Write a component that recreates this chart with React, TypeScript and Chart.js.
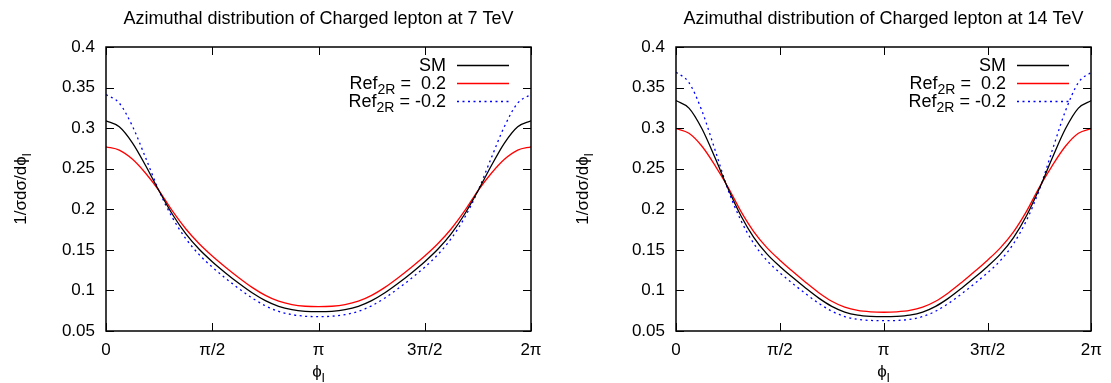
import { useEffect, useRef } from 'react';
import { Chart, registerables } from 'chart.js';

Chart.register(...registerables);

const FONT = '"Liberation Sans", Arial, sans-serif';

// azimuthal angle samples (every pi/16)
const phi = [
  0, Math.PI / 16, (2 * Math.PI) / 16, (3 * Math.PI) / 16, (4 * Math.PI) / 16,
  (5 * Math.PI) / 16, (6 * Math.PI) / 16, (7 * Math.PI) / 16, (8 * Math.PI) / 16,
  (9 * Math.PI) / 16, (10 * Math.PI) / 16, (11 * Math.PI) / 16, (12 * Math.PI) / 16,
  (13 * Math.PI) / 16, (14 * Math.PI) / 16, (15 * Math.PI) / 16, Math.PI,
  (17 * Math.PI) / 16, (18 * Math.PI) / 16, (19 * Math.PI) / 16, (20 * Math.PI) / 16,
  (21 * Math.PI) / 16, (22 * Math.PI) / 16, (23 * Math.PI) / 16, (24 * Math.PI) / 16,
  (25 * Math.PI) / 16, (26 * Math.PI) / 16, (27 * Math.PI) / 16, (28 * Math.PI) / 16,
  (29 * Math.PI) / 16, (30 * Math.PI) / 16, (31 * Math.PI) / 16, 2 * Math.PI,
];

const xTickValues = [0, Math.PI / 2, Math.PI, (3 * Math.PI) / 2, 2 * Math.PI];
const xTickLabels = ['0', 'π/2', 'π', '3π/2', '2π'];
const yTickValues = [0.05, 0.1, 0.15, 0.2, 0.25, 0.3, 0.35, 0.4];

// 7 TeV
const sm7 = [
  0.309, 0.3017, 0.2816, 0.2533, 0.2225, 0.1939, 0.17, 0.151, 0.1354, 0.1216, 0.1088, 0.0971, 0.0874, 0.0804, 0.0763, 0.0743, 0.0738,
  0.0743, 0.0763, 0.0804, 0.0874, 0.0971, 0.1088, 0.1216, 0.1354, 0.151, 0.17, 0.1939, 0.2225, 0.2533, 0.2816, 0.3017, 0.309,
];
const pos7 = [
  0.277, 0.2729, 0.2616, 0.2441, 0.2228, 0.1979, 0.176, 0.1578, 0.1424, 0.1286, 0.1157, 0.1038, 0.0939, 0.0867, 0.0825, 0.0805, 0.08,
  0.0805, 0.0825, 0.0867, 0.0939, 0.1038, 0.1157, 0.1286, 0.1424, 0.1578, 0.176, 0.1979, 0.2228, 0.2441, 0.2616, 0.2729, 0.277,
];
const neg7 = [
  0.3414, 0.3309, 0.3021, 0.2628, 0.2225, 0.1897, 0.164, 0.1444, 0.1287, 0.115, 0.1023, 0.0907, 0.0811, 0.0742, 0.0702, 0.0682, 0.0677,
  0.0682, 0.0702, 0.0742, 0.0811, 0.0907, 0.1023, 0.115, 0.1287, 0.1444, 0.164, 0.1897, 0.2225, 0.2628, 0.3021, 0.3309, 0.3414,
];

// 14 TeV
const sm14 = [
  0.334, 0.3247, 0.2992, 0.2637, 0.2259, 0.192, 0.1651, 0.145, 0.1295, 0.1158, 0.1027, 0.0905, 0.0804, 0.0734, 0.0696, 0.0681, 0.0677,
  0.0681, 0.0696, 0.0734, 0.0804, 0.0905, 0.1027, 0.1158, 0.1295, 0.145, 0.1651, 0.192, 0.2259, 0.2637, 0.2992, 0.3247, 0.334,
];
const pos14 = [
  0.2995, 0.2937, 0.2777, 0.2542, 0.2274, 0.1975, 0.1723, 0.1528, 0.1373, 0.1233, 0.1098, 0.0972, 0.0867, 0.0794, 0.0753, 0.0736, 0.0731,
  0.0736, 0.0753, 0.0794, 0.0867, 0.0972, 0.1098, 0.1233, 0.1373, 0.1528, 0.1723, 0.1975, 0.2274, 0.2542, 0.2777, 0.2937, 0.2995,
];
const neg14 = [
  0.369, 0.3562, 0.3212, 0.2735, 0.2244, 0.1863, 0.1576, 0.137, 0.1217, 0.1084, 0.0958, 0.0841, 0.0744, 0.0678, 0.0643, 0.063, 0.0627,
  0.063, 0.0643, 0.0678, 0.0744, 0.0841, 0.0958, 0.1084, 0.1217, 0.137, 0.1576, 0.1863, 0.2244, 0.2735, 0.3212, 0.3562, 0.369,
];

const title7 = 'Azimuthal distribution of Charged lepton at 7 TeV';
const title14 = 'Azimuthal distribution of Charged lepton at 14 TeV';

type Part = { t: string; sub?: boolean };
const legendEntries: { parts: Part[]; color: string; dash: number[] }[] = [
  { parts: [{ t: 'SM' }], color: '#000000', dash: [] },
  { parts: [{ t: 'Ref' }, { t: '2R', sub: true }, { t: ' =  0.2' }], color: '#ff0000', dash: [] },
  { parts: [{ t: 'Ref' }, { t: '2R', sub: true }, { t: ' = -0.2' }], color: '#0000ff', dash: [2, 3.5] },
];
const yLabelParts: Part[] = [{ t: '1/σdσ/dϕ' }, { t: 'l', sub: true }];
const xLabelParts: Part[] = [{ t: 'ϕ' }, { t: 'l', sub: true }];

function drawRich(ctx: CanvasRenderingContext2D, parts: Part[], x: number, y: number, align: 'left' | 'right' | 'center', size: number) {
  const subSize = size * 0.78;
  const widths = parts.map((p) => {
    ctx.font = `${p.sub ? subSize : size}px ${FONT}`;
    return ctx.measureText(p.t).width;
  });
  const total = widths.reduce((a, b) => a + b, 0);
  let cx = align === 'left' ? x : align === 'right' ? x - total : x - total / 2;
  ctx.textAlign = 'left';
  ctx.textBaseline = 'alphabetic';
  parts.forEach((p, i) => {
    ctx.font = `${p.sub ? subSize : size}px ${FONT}`;
    ctx.fillText(p.t, cx, p.sub ? y + size * 0.3 : y);
    cx += widths[i];
  });
}

function makeOverlay(title: string, yLabelX: number) {
  return {
    id: 'gnuplotOverlay',
    afterDraw(chart: any) {
      const ctx: CanvasRenderingContext2D = chart.ctx;
      const a = chart.chartArea;
      const xs = chart.scales.x;
      const ys = chart.scales.y;
      const L = Math.round(a.left), R = Math.round(a.right), T = Math.round(a.top), B = Math.round(a.bottom);
      ctx.save();
      ctx.strokeStyle = '#000';
      ctx.lineWidth = 1;
      // ticks (inward, mirrored)
      ctx.beginPath();
      xTickValues.forEach((v) => {
        const px = Math.round(xs.getPixelForValue(v)) + 0.5;
        ctx.moveTo(px, B);
        ctx.lineTo(px, B - 8);
        ctx.moveTo(px, T);
        ctx.lineTo(px, T + 8);
      });
      yTickValues.forEach((v) => {
        const py = Math.round(ys.getPixelForValue(v)) + 0.5;
        ctx.moveTo(L, py);
        ctx.lineTo(L + 8, py);
        ctx.moveTo(R, py);
        ctx.lineTo(R - 8, py);
      });
      ctx.stroke();
      // frame
      ctx.lineWidth = 1.5;
      ctx.strokeRect(L, T, R - L, B - T);
      ctx.fillStyle = '#000';
      // title
      drawRich(ctx, [{ t: title }], (L + R) / 2, 24, 'center', 18);
      // axis titles
      drawRich(ctx, xLabelParts, (L + R) / 2, 377, 'center', 17);
      ctx.save();
      ctx.translate(yLabelX, (T + B) / 2);
      ctx.rotate(-Math.PI / 2);
      drawRich(ctx, yLabelParts, 0, 0, 'center', 17);
      ctx.restore();
      // legend
      legendEntries.forEach((e, i) => {
        const cy = T + 18 + i * 18;
        ctx.fillStyle = '#000';
        drawRich(ctx, e.parts, R - 85, cy + 6, 'right', 18);
        ctx.beginPath();
        ctx.strokeStyle = e.color;
        ctx.lineWidth = 1.3;
        ctx.setLineDash(e.dash);
        ctx.moveTo(R - 74, cy + 0.5);
        ctx.lineTo(R - 22, cy + 0.5);
        ctx.stroke();
        ctx.setLineDash([]);
      });
      ctx.restore();
    },
  };
}

function PhiChart(props: { left: number; width: number; axisWidth: number; padRight: number; yLabelX: number; title: string; sm: number[]; pos: number[]; neg: number[] }) {
  const ref = useRef<HTMLCanvasElement | null>(null);
  useEffect(() => {
    if (!ref.current) return;
    const mk = (vals: number[], color: string, dash: number[]) => ({
      data: phi.map((x, i) => ({ x, y: vals[i] })),
      borderColor: color,
      borderWidth: 1.3,
      borderDash: dash,
      pointRadius: 0,
      fill: false,
      cubicInterpolationMode: 'monotone' as const,
    });
    const chart = new Chart(ref.current, {
      type: 'line',
      data: {
        datasets: [
          mk(props.sm, '#000000', []),
          mk(props.pos, '#ff0000', []),
          mk(props.neg, '#0000ff', [2, 3.5]),
        ],
      },
      options: {
        responsive: false,
        maintainAspectRatio: false,
        animation: false,
        devicePixelRatio: 1,
        layout: { padding: { left: 0, right: props.padRight, top: 47, bottom: 0 } },
        plugins: { legend: { display: false }, title: { display: false }, tooltip: { enabled: false } },
        scales: {
          x: {
            type: 'linear',
            min: 0,
            max: 2 * Math.PI,
            afterBuildTicks: (s: any) => {
              s.ticks = xTickValues.map((v) => ({ value: v }));
            },
            afterFit: (s: any) => {
              s.height = 52;
            },
            ticks: {
              autoSkip: false,
              maxRotation: 0,
              padding: 9,
              color: '#000',
              font: { family: FONT, size: 17 },
              callback: (v: any) => {
                const i = xTickValues.findIndex((t) => Math.abs(t - Number(v)) < 1e-6);
                return i >= 0 ? xTickLabels[i] : '';
              },
            },
            grid: { display: false, drawTicks: false },
            border: { display: false },
          },
          y: {
            type: 'linear',
            min: 0.05,
            max: 0.4,
            afterBuildTicks: (s: any) => {
              s.ticks = yTickValues.map((v) => ({ value: v }));
            },
            afterFit: (s: any) => {
              s.width = props.axisWidth;
            },
            ticks: {
              padding: 11,
              color: '#000',
              font: { family: FONT, size: 17 },
              callback: (v: any) => String(Number(Number(v).toFixed(2))),
            },
            grid: { display: false, drawTicks: false },
            border: { display: false },
          },
        },
      },
      plugins: [makeOverlay(props.title, props.yLabelX)],
    });
    return () => chart.destroy();
  }, []);
  return (
    <canvas
      ref={ref}
      width={props.width}
      height={383}
      style={{ position: 'absolute', left: props.left, top: 0, width: props.width, height: 383 }}
    />
  );
}

export default function App() {
  return (
    <div style={{ position: 'absolute', left: 0, top: 0, width: 1111, height: 383, background: '#fff' }}>
      <PhiChart left={0} width={555} axisWidth={106} padRight={24} yLabelX={26} title={title7} sm={sm7} pos={pos7} neg={neg7} />
      <PhiChart left={555} width={556} axisWidth={121} padRight={10} yLabelX={33} title={title14} sm={sm14} pos={pos14} neg={neg14} />
    </div>
  );
}
